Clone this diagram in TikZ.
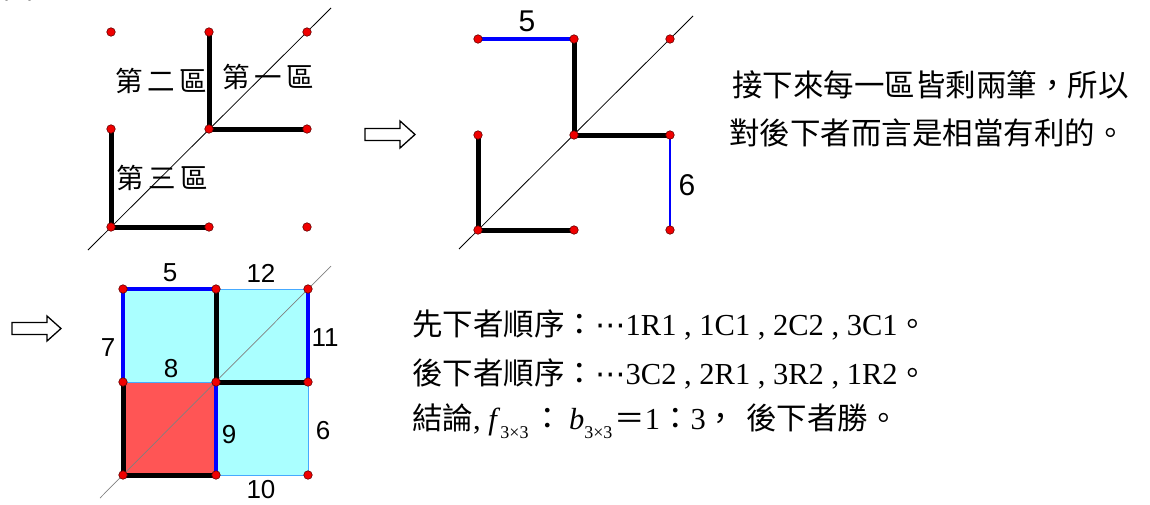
\documentclass[tikz,border=0pt]{standalone}
\usepackage{fontspec}
\setmainfont{Liberation Serif}
\newfontfamily\cjk{Noto Sans CJK TC}
\newfontfamily\arialf{Liberation Sans}
\newfontfamily\dejavu{DejaVu Sans}
\definecolor{dotred}{RGB}{240,0,0}
\definecolor{cyanfill}{RGB}{170,255,255}
\definecolor{redfill}{RGB}{255,85,85}
\definecolor{thinblue}{RGB}{70,170,255}
\definecolor{pureblue}{RGB}{0,0,255}
\tikzset{
  dot/.style={circle, fill=dotred, draw=black!60!red, line width=0.6pt, inner sep=0pt, minimum size=8.5pt},
  thickedge/.style={line width=5pt, line cap=round},
  blueedge/.style={line width=4.5pt, pureblue},
  lightedge/.style={line width=1pt, thinblue},
  diag/.style={line width=0.8pt, black},
  graydiag/.style={line width=0.7pt, black!50},
  hollowarrow/.style={draw=black, line width=1.3pt, fill=white, line join=miter},
  numA/.style={font=\arialf\fontsize{30}{30}\selectfont, inner sep=0pt},
  numB/.style={font=\arialf\fontsize{26}{26}\selectfont, inner sep=0pt},
  zone/.style={font=\cjk\fontsize{27.5}{28}\selectfont, inner sep=0pt},
  body/.style={font=\fontsize{30.5}{36}\selectfont, inner sep=0pt, anchor=base west},
}
\newcommand{\zsp}{\kern4.5pt}
\newcommand{\subsz}[1]{\raisebox{-0.3em}{\fontsize{18}{18}\selectfont #1}}
\begin{document}
\begin{tikzpicture}[x=1pt,y=-1pt]
\useasboundingbox (0,0) rectangle (1150,504);
\node[font=\cjk\fontsize{30}{30}\selectfont, inner sep=0pt, anchor=base] (tu) at (18,-2) {圖};

% ---------- diagram 1 ----------
\foreach \i/\x in {1/111,2/209,3/307}
  \foreach \j/\y in {1/32,2/129,3/227}
    \coordinate (a\i\j) at (\x,\y);
\coordinate (a0) at (88,250);
\coordinate (a4) at (331,8);
\draw[diag] (a0) -- (a4);
\draw[thickedge] (a21) -- (a22) -- (a32);
\draw[thickedge] (a12) -- (a13) -- (a23);
\foreach \i in {1,2,3} \foreach \j in {1,2,3} \node[dot] (da\i\j) at (a\i\j) {};
\node[zone] (z2) at (161,81) {第\zsp 二\zsp 區};
\node[zone] (z1) at (268,77) {第\zsp 一\zsp 區};
\node[zone] (z3) at (162,178) {第\zsp 三\zsp 區};

% arrow 1
\draw[hollowarrow] (365,128.5) -- (400,128.5) -- (400,121) -- (415,134.5) -- (400,148) -- (400,140.5) -- (365,140.5) -- cycle;

% ---------- diagram 2 ----------
\foreach \i/\x in {1/478,2/574,3/670}
  \foreach \j/\y in {1/39,2/135,3/230}
    \coordinate (b\i\j) at (\x,\y);
\coordinate (b0) at (459,249);
\coordinate (b4) at (693,16);
\draw[diag] (b0) -- (b4);
\draw[blueedge] (b11) -- (b21);
\draw[thickedge] (b21) -- (b22) -- (b32);
\draw[thickedge] (b12) -- (b13) -- (b23);
\draw[line width=1.2pt, pureblue] (b32) -- (b33);
\foreach \i in {1,2,3} \foreach \j in {1,2,3} \node[dot] (db\i\j) at (b\i\j) {};
\node[numA] (n5a) at (527,21) {5};
\node[numA] (n6a) at (687,185) {6};

% text top right
\node[body] (t1) at (732,96) {\cjk 接下來每一區皆剩兩筆，所以};
\node[body] (t2) at (729,144) {\cjk 對後下者而言是相當有利的。};

% arrow 2
\draw[hollowarrow] (12,322.5) -- (47,322.5) -- (47,316) -- (61,328.5) -- (47,341) -- (47,334.5) -- (12,334.5) -- cycle;

% ---------- diagram 3 ----------
\foreach \i/\x in {1/123,2/216,3/308}
  \foreach \j/\y in {1/289,2/382,3/475}
    \coordinate (c\i\j) at (\x,\y);
\coordinate (c0) at (100,498);
\coordinate (c4) at (331,266);
\fill[cyanfill] (c11) rectangle (c22);
\fill[cyanfill] (c21) rectangle (c32);
\fill[cyanfill] (c22) rectangle (c33);
\fill[redfill] (c12) rectangle (c23);
\draw[graydiag] (c0) -- (c4);
\draw[lightedge] (c21) -- (c31);
\draw[lightedge] (c12) -- (c22);
\draw[lightedge] (c32) -- (c33) -- (c23);
\draw[blueedge] (c12) -- (c11) -- (c21);
\draw[blueedge] (c31) -- (c32);
\draw[blueedge] (c22) -- (c23);
\draw[thickedge] (c21) -- (c22) -- (c32);
\draw[thickedge] (c12) -- (c13) -- (c23);
\foreach \i in {1,2,3} \foreach \j in {1,2,3} \node[dot] (dc\i\j) at (c\i\j) {};
\node[numB] (m5) at (170,273) {5};
\node[numB] (m12) at (261,273) {12};
\node[numB] (m7) at (108,348) {7};
\node[numB] (m8) at (171,369) {8};
\node[numB] (m11) at (325,338) {11};
\node[numB] (m9) at (229,435) {9};
\node[numB] (m6) at (323,431) {6};
\node[numB] (m10) at (261,490) {10};

% text bottom
\node[body] (s1) at (412,335) {{\cjk 先下者順序：}{\dejavu ⋯}1R1 , 1C1 , 2C2 , 3C1{\cjk 。}};
\node[body] (s2) at (412,384) {{\cjk 後下者順序：}{\dejavu ⋯}3C2 , 2R1 , 3R2 , 1R2{\cjk 。}};
\node[body] (s3) at (412,429) {{\cjk 結論}, \textit{f}\subsz{3×3}\kern4pt{\cjk ：}\kern6pt\textit{b}\subsz{3×3}\kern2pt{\cjk ＝}1{\cjk ：}3{\cjk ，}\kern10pt{\cjk 後下者勝。}};
\end{tikzpicture}
\end{document}
